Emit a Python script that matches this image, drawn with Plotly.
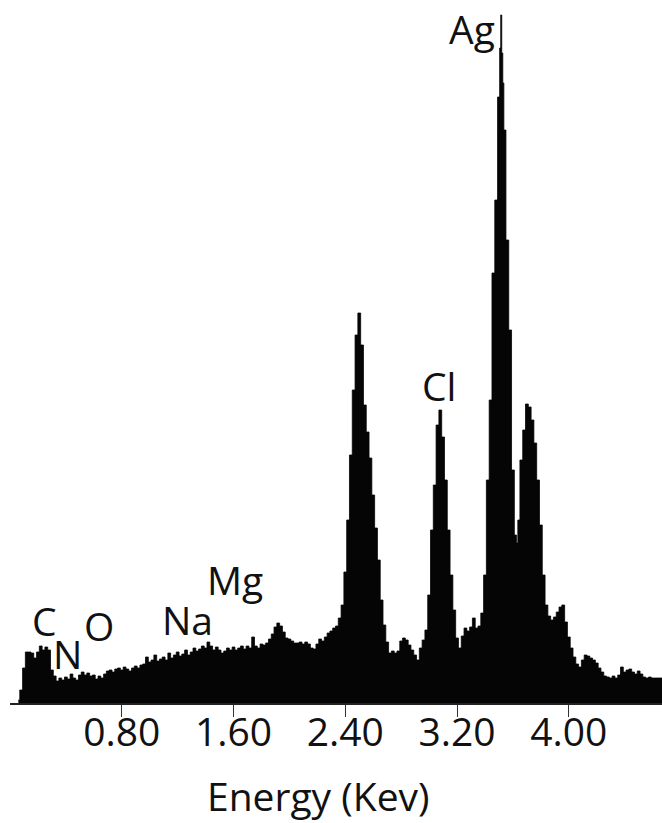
import plotly.graph_objects as go

# Channel energies (keV)
energy = [
    0.06, 0.08, 0.10, 0.12, 0.14, 0.16, 0.18, 0.20, 0.22, 0.24, 0.26, 0.28,
    0.30, 0.32, 0.34, 0.36, 0.38, 0.40, 0.42, 0.44, 0.46, 0.48, 0.50,
    0.52, 0.54, 0.56, 0.58, 0.60, 0.62, 0.64, 0.66, 0.68, 0.70,
    0.72, 0.74, 0.76, 0.78, 0.80, 0.82, 0.84, 0.86, 0.88, 0.90,
    0.92, 0.94, 0.96, 0.98, 1.00, 1.02, 1.04, 1.06, 1.08, 1.10,
    1.12, 1.14, 1.16, 1.18, 1.20, 1.22, 1.24, 1.26, 1.28, 1.30,
    1.32, 1.34, 1.36, 1.38, 1.40, 1.42, 1.44, 1.46, 1.48, 1.50,
    1.52, 1.54, 1.56, 1.58, 1.60, 1.62, 1.64, 1.66, 1.68, 1.70,
    1.72, 1.74, 1.76, 1.78, 1.80, 1.82, 1.84, 1.86, 1.88, 1.90,
    1.92, 1.94, 1.96, 1.98, 2.00, 2.02, 2.04, 2.06, 2.08, 2.10,
    2.12, 2.14, 2.16, 2.18, 2.20, 2.22, 2.24, 2.26, 2.28, 2.30,
    2.32, 2.34, 2.36, 2.38, 2.40, 2.42, 2.44, 2.46, 2.48, 2.50,
    2.52, 2.54, 2.56, 2.58, 2.60, 2.62, 2.64, 2.66, 2.68, 2.70,
    2.72, 2.74, 2.76, 2.78, 2.80, 2.82, 2.84, 2.86, 2.88, 2.90,
    2.92, 2.94, 2.96, 2.98, 3.00, 3.02, 3.04, 3.06, 3.08, 3.10,
    3.12, 3.14, 3.16, 3.18, 3.20, 3.22, 3.24, 3.26, 3.28, 3.30,
    3.32, 3.34, 3.36, 3.38, 3.40, 3.42, 3.44, 3.46, 3.48, 3.50,
    3.51, 3.515, 3.525, 3.53, 3.54,
    3.56, 3.58, 3.60, 3.62, 3.63, 3.64,
    3.66, 3.68, 3.70, 3.72, 3.74, 3.76, 3.78, 3.80, 3.82, 3.84,
    3.86, 3.88, 3.90, 3.92, 3.94, 3.96, 3.98, 4.00, 4.02, 4.04,
    4.06, 4.08, 4.10, 4.12, 4.14, 4.16, 4.18, 4.20, 4.22, 4.24,
    4.26, 4.28, 4.30, 4.32, 4.34, 4.36, 4.38, 4.40, 4.42, 4.44,
    4.46, 4.48, 4.50, 4.52, 4.54, 4.56, 4.58, 4.60, 4.62, 4.64, 4.66, 4.68,
]

# Counts (arbitrary units)
counts = [
    3, 13, 35, 51, 51, 50, 45, 51, 57, 53, 56, 53,
    33, 27, 22, 25, 23, 26, 24, 29, 25, 23, 28,
    31, 28, 30, 27, 28, 24, 27, 25, 29, 32,
    33, 31, 34, 35, 33, 36, 34, 32, 35, 37,
    35, 38, 39, 46, 41, 43, 48, 42, 44, 46,
    43, 50, 45, 48, 51, 47, 49, 53, 48, 51,
    55, 52, 54, 57, 55, 61, 57, 53, 56, 53,
    50, 52, 55, 53, 56, 53, 55, 57, 54, 57,
    55, 66, 57, 55, 59, 58, 60, 64, 69, 76,
    80, 77, 71, 65, 64, 62, 60, 60, 61, 59,
    61, 59, 55, 54, 59, 64, 62, 66, 70, 72,
    75, 77, 85, 98, 131, 183, 248, 313, 368, 390,
    358, 298, 271, 245, 208, 175, 143, 103, 78, 61,
    50, 52, 50, 52, 62, 65, 63, 58, 53, 48,
    43, 55, 63, 73, 108, 173, 218, 278, 293, 266,
    223, 173, 128, 93, 65, 55, 67, 75, 72, 76,
    85, 75, 77, 90, 128, 223, 303, 430, 503, 606,
    655, 688, 650, 620, 573,
    463, 373, 233, 168, 160, 183,
    243, 273, 299, 296, 283, 260, 223, 178, 128, 98,
    87, 83, 86, 91, 96, 98, 81, 66, 55, 46,
    39, 36, 43, 48, 47, 45, 43, 40, 35, 31,
    27, 26, 25, 27, 25, 28, 36, 31, 33, 34,
    31, 29, 32, 29, 26, 25, 26, 25, 25, 25, 25, 25,
]

# Element labels and their positions (keV, counts)
element_labels = ["C", "N", "O", "Na", "Mg", "Cl", "Ag"]
label_energy = [0.250, 0.408, 0.637, 1.274, 1.611, 3.071, 3.307]
label_counts = [83, 50, 78, 84, 124, 318, 675]

tick_vals = [0.80, 1.60, 2.40, 3.20, 4.00]
tick_text = ["0.80", "1.60", "2.40", "3.20", "4.00"]

FONT = "Open Sans"
FS = 39

fig = go.Figure()
fig.add_trace(go.Scatter(
    x=energy, y=counts, mode="lines", line_shape="hvh",
    line=dict(color="#050505", width=0.8),
    fill="tozeroy", fillcolor="#050505",
    hoverinfo="skip", showlegend=False,
))

for t, ex, cy in zip(element_labels, label_energy, label_counts):
    fig.add_annotation(x=ex, y=cy, xref="x", yref="y", text=t, showarrow=False,
                       xanchor="center", yanchor="middle",
                       font=dict(family=FONT, size=FS, color="#111"))

fig.add_annotation(x=2.205, y=-0.1309, xref="x", yref="paper", text="Energy (Kev)",
                   showarrow=False, xanchor="center", yanchor="middle",
                   font=dict(family=FONT, size=FS, color="#111"))

fig.update_layout(
    width=662, height=823,
    margin=dict(l=10, r=0, t=0, b=120),
    paper_bgcolor="white", plot_bgcolor="white",
    xaxis=dict(range=[0, 4.667], showgrid=False, zeroline=False,
               showline=True, linecolor="#222", linewidth=2,
               ticks="outside", ticklen=12, tickwidth=1, tickcolor="#333",
               tickvals=tick_vals, ticktext=tick_text, ticklabelstandoff=-18,
               tickfont=dict(family=FONT, size=FS, color="#111")),
    yaxis=dict(range=[0, 703], visible=False, showgrid=False, zeroline=False),
)

fig.write_html("out.html", config={"displayModeBar": False},
               post_script="document.body.style.margin='0px';document.body.style.overflow='hidden';")
